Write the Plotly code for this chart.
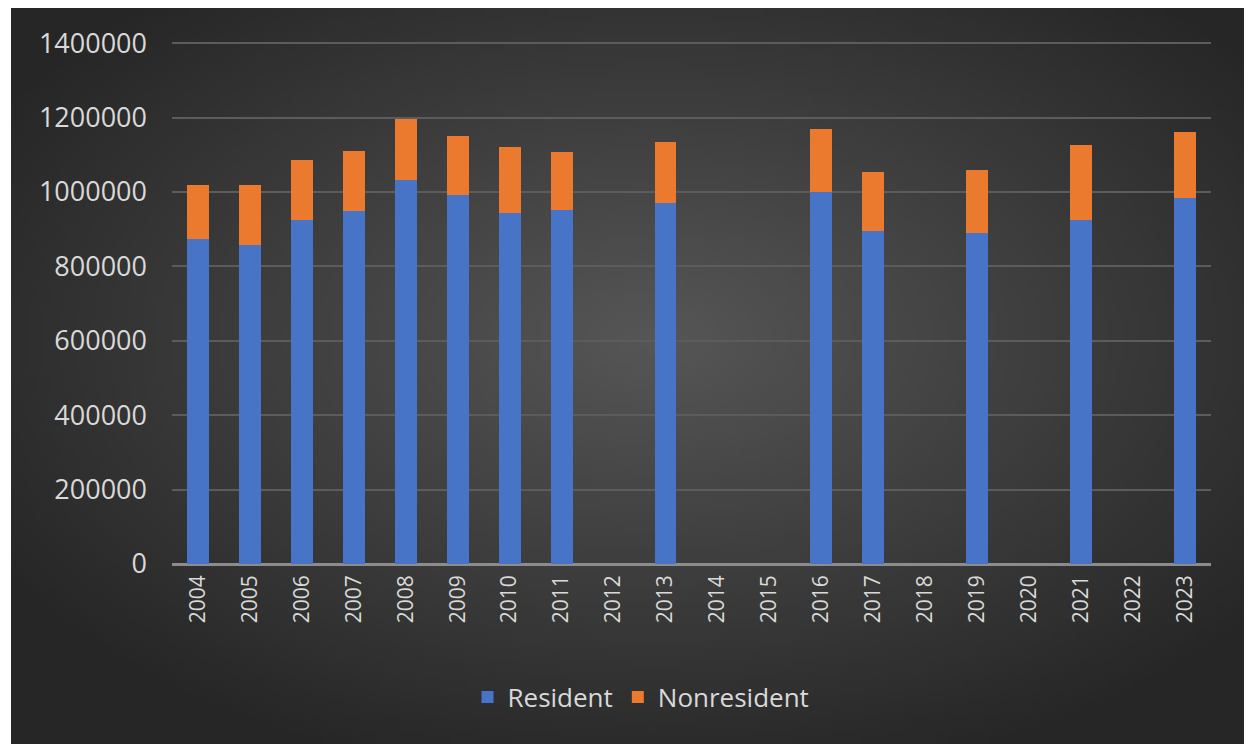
import base64, struct, zlib
import plotly.graph_objects as go

years = [str(y) for y in range(2004, 2024)]
resident = [872600, 858000, 925300, 947800, 1032000, 991700, 942400, 952200, None, 969400,
            None, None, 1000600, 894000, None, 889600, None, 925300, None, 982800]
nonresident = [145900, 160500, 159700, 163000, 163900, 159400, 177400, 154200, None, 163600,
               None, None, 168400, 160300, None, 168400, None, 199900, None, 177200]
y_ticks = [0, 200000, 400000, 600000, 800000, 1000000, 1200000, 1400000]


def gradient_png(w, h):
    c_in, c_out = 86, 38
    rows = []
    for j in range(h):
        row = bytearray([0])
        for i in range(w):
            dx = (i / (w - 1) - 0.52) / 0.62
            dy = (j / (h - 1) - 0.45) / 0.62
            d = min((dx * dx + dy * dy) ** 0.5, 1.0)
            v = int(round(c_in + (c_out - c_in) * d))
            row += bytes([v, v, v])
        rows.append(bytes(row))
    raw = b"".join(rows)

    def chunk(t, data):
        c = struct.pack(">I", len(data)) + t + data
        return c + struct.pack(">I", zlib.crc32(t + data) & 0xffffffff)

    png = b"\x89PNG\r\n\x1a\n" + chunk(b"IHDR", struct.pack(">IIBBBBB", w, h, 8, 2, 0, 0, 0))
    png += chunk(b"IDAT", zlib.compress(raw, 9)) + chunk(b"IEND", b"")
    return "data:image/png;base64," + base64.b64encode(png).decode()


OFF = 8  # page body margin
W, H = 1244, 736
ml, mr, mt, mb = 164, 41, 34, 180
pw, ph = W - ml - mr, H - mt - mb

def px_x(p):
    return (p - OFF - ml) / pw

def px_y(p):
    return (H - mb - (p - OFF)) / ph

fig = go.Figure()
fig.add_trace(go.Bar(x=years, y=resident, name="Resident",
                     marker=dict(color="#4874c8", line=dict(width=0))))
fig.add_trace(go.Bar(x=years, y=nonresident, name="Nonresident",
                     marker=dict(color="#ec7a2e", line=dict(width=0))))

fig.update_layout(
    width=W, height=H,
    margin=dict(l=ml, r=mr, t=mt, b=mb),
    barmode="stack", bargap=0.58,
    paper_bgcolor="white", plot_bgcolor="rgba(0,0,0,0)",
    font=dict(family="Open Sans", color="#d9d9d9"),
    showlegend=True,
    legend=dict(orientation="h", x=px_x(641), xanchor="center", y=px_y(697), yanchor="middle",
                font=dict(size=26, color="#d9d9d9"), bgcolor="rgba(0,0,0,0)",
                itemwidth=30, traceorder="normal"),
    images=[dict(source=gradient_png(240, 144), xref="paper", yref="paper",
                 x=px_x(11), y=px_y(OFF), sizex=px_x(1249) - px_x(11),
                 sizey=px_y(OFF) - px_y(744),
                 xanchor="left", yanchor="top", sizing="stretch", layer="below")],
    xaxis=dict(type="category", tickangle=-90, tickfont=dict(size=21, color="#d9d9d9"),
               showgrid=False, showline=False, ticks="", ticklabelstandoff=6),
    yaxis=dict(range=[0, 1403000], tickvals=y_ticks, ticktext=[str(v) for v in y_ticks],
               tickfont=dict(size=27, color="#d9d9d9"), showgrid=True, gridcolor="#5c5c5c",
               gridwidth=2, zeroline=True, zerolinecolor="#8c8c8c", zerolinewidth=3,
               showline=False, ticks="", ticklabelstandoff=24),
)

fig.write_html("out.html")
